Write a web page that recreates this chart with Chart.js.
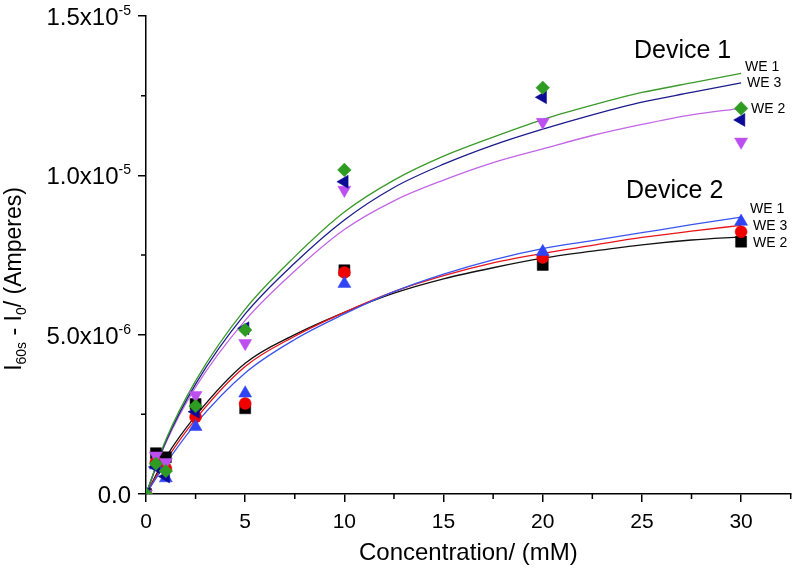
<!DOCTYPE html>
<html>
<head>
<meta charset="utf-8">
<script src="https://cdn.jsdelivr.net/npm/chart.js@4.4.0/dist/chart.umd.min.js"></script>
<style>
  html, body { margin: 0; padding: 0; background: #fff; }
  #wrap { width: 799px; height: 576px; }
</style>
</head>
<body>
<div id="wrap"><canvas id="chart"></canvas></div>
<script>
// concentrations in mM
const concentrations = [0, 0.5, 1, 2.5, 5, 10, 20, 30];

// measured I60s - I0, in units of 1e-6 A
const d1we1 = [0, 0.95, 0.72, 2.76, 5.15, 10.17, 12.75, 12.10];
const d1we3 = [0, 0.85, 0.55, 2.58, 5.20, 9.80, 12.45, 11.74];
const d1we2 = [0, 1.20, 1.00, 3.10, 4.73, 9.54, 11.67, 11.05];
const d2we1 = [0, 0.90, 0.50, 2.11, 3.16, 6.60, 7.60, 8.55];
const d2we3 = [0, 1.00, 0.80, 2.42, 2.84, 6.95, 7.42, 8.23];
const d2we2 = [0, 1.28, 1.15, 2.82, 2.69, 7.02, 7.19, 7.92];

// fitted curves
const fitX = [0, 1, 2.5, 5, 7.5, 10, 12.5, 15, 17.5, 20, 22.5, 25, 27.5, 30];
const fitD1we1 = [0, 1.70, 3.55, 5.80, 7.45, 8.85, 9.85, 10.60, 11.20, 11.75, 12.20, 12.60, 12.90, 13.20];
const fitD1we3 = [0, 1.65, 3.45, 5.65, 7.25, 8.60, 9.62, 10.35, 10.95, 11.45, 11.90, 12.30, 12.60, 12.90];
const fitD1we2 = [0, 1.60, 3.35, 5.45, 7.00, 8.30, 9.20, 9.85, 10.40, 10.83, 11.25, 11.60, 11.90, 12.10];
const fitD2we1 = [0, 0.95, 2.20, 3.80, 4.85, 5.65, 6.35, 6.90, 7.35, 7.70, 7.95, 8.20, 8.45, 8.69];
const fitD2we3 = [0, 1.05, 2.35, 4.00, 4.95, 5.70, 6.35, 6.85, 7.25, 7.55, 7.80, 8.05, 8.25, 8.43];
const fitD2we2 = [0, 1.15, 2.45, 4.10, 5.00, 5.70, 6.30, 6.75, 7.10, 7.40, 7.62, 7.82, 7.97, 8.07];

// axis ticks
const xMinor = [2.5, 7.5, 12.5, 17.5, 22.5, 27.5, 32.5];
const yTicks = [0, 5, 10, 15];
const yTickText = ['0.0', '5.0x10', '1.0x10', '1.5x10'];
const yTickExp = ['', '-6', '-5', '-5'];
const yMinor = [2.5, 7.5, 12.5];

const U = 1e-6;
const FONT = "'Liberation Sans', Arial, sans-serif";

function pts(xs, ys) {
  return xs.map((c, i) => ({ x: c, y: ys[i] * U }));
}

function markers(vals, color, style, radius, rotation) {
  return {
    data: pts(concentrations, vals),
    showLine: false,
    pointStyle: style,
    pointRadius: radius,
    pointRotation: rotation || 0,
    backgroundColor: color,
    borderColor: color,
    pointBorderWidth: 0.5
  };
}

function curve(vals, color) {
  return {
    data: pts(fitX, vals),
    showLine: true,
    pointRadius: 0,
    borderColor: color,
    borderWidth: 1.3,
    cubicInterpolationMode: 'monotone',
    fill: false
  };
}

// text labels placed in data coordinates
const notes = [
  { text: 'Device 1', x: 24.6, y: 13.9, size: 25 },
  { text: 'WE 1', x: 30.2, y: 13.4, size: 14 },
  { text: 'WE 3', x: 30.3, y: 12.9, size: 14 },
  { text: 'WE 2', x: 30.5, y: 12.08, size: 14 },
  { text: 'Device 2', x: 24.2, y: 9.51, size: 25 },
  { text: 'WE 1', x: 30.45, y: 8.94, size: 14 },
  { text: 'WE 3', x: 30.6, y: 8.41, size: 14 },
  { text: 'WE 2', x: 30.6, y: 7.88, size: 14 }
];

const decor = {
  id: 'decor',
  afterDraw(chart) {
    const { ctx, chartArea, scales: { x, y } } = chart;
    ctx.save();
    ctx.strokeStyle = '#000';
    ctx.lineWidth = 1.5;
    ctx.beginPath();
    xMinor.forEach(v => {
      const px = x.getPixelForValue(v);
      ctx.moveTo(px, chartArea.bottom);
      ctx.lineTo(px, chartArea.bottom + 5);
    });
    yMinor.forEach(v => {
      const py = y.getPixelForValue(v * U);
      ctx.moveTo(chartArea.left, py);
      ctx.lineTo(chartArea.left - 5, py);
    });
    ctx.stroke();

    // y tick labels with superscript exponents
    ctx.fillStyle = '#000';
    ctx.textBaseline = 'alphabetic';
    yTicks.forEach((v, i) => {
      const py = y.getPixelForValue(v * U);
      const right = chartArea.left - 15;
      ctx.font = '14px ' + FONT;
      const ew = ctx.measureText(yTickExp[i]).width;
      ctx.fillText(yTickExp[i], right - ew, py - 1);
      ctx.font = '24px ' + FONT;
      const mw = ctx.measureText(yTickText[i]).width;
      ctx.fillText(yTickText[i], right - ew - mw, py + 9);
    });

    // y axis title with subscripts
    const parts = [
      ['I', 23, 0], ['60s', 14, 5], [' - I', 23, 0], ['0', 14, 5], ['/ (Amperes)', 23, 0]
    ];
    let total = 0;
    parts.forEach(p => { ctx.font = p[1] + 'px ' + FONT; total += ctx.measureText(p[0]).width; });
    ctx.translate(21, 279);
    ctx.rotate(-Math.PI / 2);
    let cx = -total / 2;
    parts.forEach(p => {
      ctx.font = p[1] + 'px ' + FONT;
      ctx.fillText(p[0], cx, p[2]);
      cx += ctx.measureText(p[0]).width;
    });
    ctx.setTransform(1, 0, 0, 1, 0, 0);

    // device / electrode labels
    ctx.textBaseline = 'middle';
    notes.forEach(n => {
      ctx.font = n.size + 'px ' + FONT;
      ctx.fillText(n.text, x.getPixelForValue(n.x), y.getPixelForValue(n.y * U));
    });
    ctx.restore();
  }
};

new Chart(document.getElementById('chart'), {
  type: 'scatter',
  data: {
    datasets: [
      markers(d1we1, '#2e9b23', 'rectRot', 6.8),
      markers(d1we3, '#0b0b96', 'triangle', 7.5, -90),
      markers(d1we2, '#bd4ff0', 'triangle', 7.5, 180),
      markers(d2we1, '#2f45f5', 'triangle', 7.5),
      markers(d2we3, '#f00000', 'circle', 6),
      markers(d2we2, '#000000', 'rect', 7.8),
      curve(fitD1we1, '#3a9a2a'),
      curve(fitD1we3, '#1c1c8c'),
      curve(fitD1we2, '#c266e6'),
      curve(fitD2we1, '#3a55ee'),
      curve(fitD2we3, '#e8141a'),
      curve(fitD2we2, '#111111')
    ]
  },
  options: {
    responsive: true,
    maintainAspectRatio: false,
    animation: false,
    events: [],
    layout: { padding: { top: 16, right: 2, left: 0, bottom: 0 } },
    plugins: { legend: { display: false }, tooltip: { enabled: false } },
    scales: {
      x: {
        type: 'linear',
        min: 0,
        max: 32.5,
        afterFit: s => { s.height = 82; },
        border: { color: '#000', width: 1.5 },
        grid: { drawOnChartArea: false, color: '#000', lineWidth: 1.5, tickLength: 8 },
        ticks: { stepSize: 5, includeBounds: false, color: '#000', padding: 8, font: { family: FONT, size: 21 } },
        title: {
          display: true,
          text: 'Concentration/ (mM)',
          color: '#000',
          font: { family: FONT, size: 24 },
          padding: { top: 0, bottom: 8 }
        }
      },
      y: {
        type: 'linear',
        min: 0,
        max: 15 * U,
        afterFit: s => { s.width = 146; },
        border: { color: '#000', width: 1.5 },
        grid: { drawOnChartArea: false, color: '#000', lineWidth: 1.5, tickLength: 8 },
        ticks: { stepSize: 5 * U, display: false }
      }
    }
  },
  plugins: [decor]
});
</script>
</body>
</html>
